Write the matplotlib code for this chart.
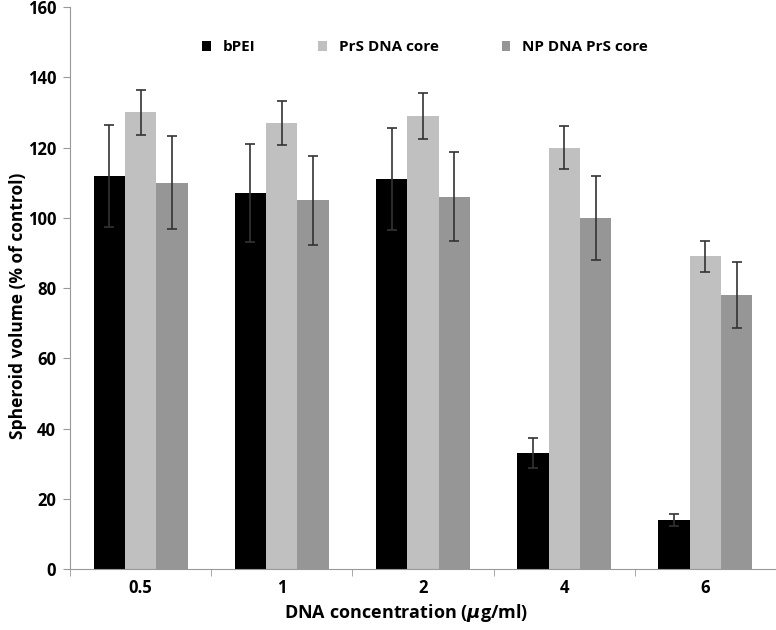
import numpy as np
import matplotlib.pyplot as plt

plt.rcParams['font.family'] = ['Open Sans', 'DejaVu Sans']
plt.rcParams['font.weight'] = 'bold'

categories = ['0.5', '1', '2', '4', '6']
series = ['bPEI', 'PrS DNA core', 'NP DNA PrS core']
bpei = [112, 107, 111, 33, 14]
bpei_err = [14.5, 14, 14.5, 4.3, 1.8]
prs = [130, 127, 129, 120, 89]
prs_err = [6.5, 6.3, 6.5, 6, 4.5]
np_core = [110, 105, 106, 100, 78]
np_err = [13.3, 12.7, 12.7, 12, 9.5]

values = [bpei, prs, np_core]
errors = [bpei_err, prs_err, np_err]
colors = ['#000000', '#C0C0C0', '#969696']

fig = plt.figure(figsize=(7.76, 6.3), dpi=100)
ax = fig.add_axes([0.0902, 0.0968, 0.9098, 0.892])

x = np.arange(len(categories))
w = 0.222
for i, (vals, errs, c) in enumerate(zip(values, errors, colors)):
    ax.bar(x + (i - 1) * w, vals, w, color=c, label=series[i],
           yerr=errs, capsize=3.5,
           error_kw=dict(ecolor='#333333', elinewidth=1.2, capthick=1.2))

ax.set_xlim(-0.5, 4.5)
ax.set_ylim(0, 160)
ax.set_yticks(range(0, 161, 20))
ax.set_xticks(x)
ax.set_xticklabels(categories)
ax.set_xticks(np.arange(-0.5, 5, 1), minor=True)
ax.tick_params(axis='x', which='major', length=0, pad=7, labelsize=12)
ax.tick_params(axis='x', which='minor', length=5, color='#999999')
ax.tick_params(axis='y', length=5, color='#999999', labelsize=12, pad=5)

for s in ['top', 'right']:
    ax.spines[s].set_visible(False)
for s in ['left', 'bottom']:
    ax.spines[s].set_color('#999999')

ax.set_ylabel('Spheroid volume (% of control)', fontsize=12.5, fontweight='bold')
ax.yaxis.set_label_coords(-0.061, 0.468)
ax.set_xlabel(r'DNA concentration ($\mu$g/ml)', fontsize=13, fontweight='bold')
ax.xaxis.set_label_coords(0.476, -0.058)

ax.legend(loc='upper center', bbox_to_anchor=(0.503, 0.965), ncol=3, frameon=False,
          fontsize=11, handlelength=0.55, handleheight=0.55, columnspacing=4.1,
          handletextpad=0.8)

fig.savefig('out.png', dpi=100)
